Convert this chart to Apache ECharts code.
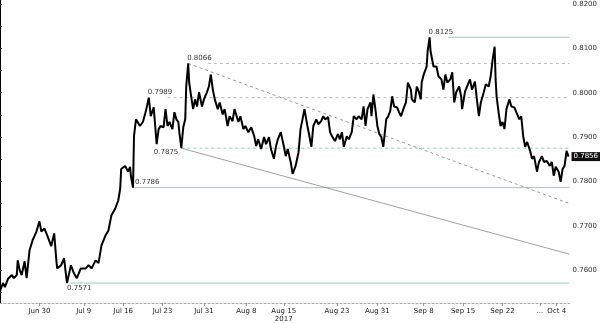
<!DOCTYPE html>
<html><head><meta charset="utf-8">
<script src="https://cdn.jsdelivr.net/npm/echarts@6/dist/echarts.min.js"></script>
<style>html,body{margin:0;padding:0;background:#fff}#c{width:600px;height:323px}</style>
</head><body><div id="c"></div>
<script>
// session index (trading-time position) and AUD/USD-like rate
const sessionIdx = [0,3,5,8,10,12,14,17,18,20,22,25,27,30,33,37,40,42,45,48,52,55,57,58,62,65,67,68,72,75,78,82,87,90,93,97,100,103,107,110,113,117,120,122,123,127,130,132,133,135,136,138,142,145,148,151,153,156,158,159,161,163,166,168,170,172,175,177,179,181,182,184,186,188,189,191,192,194,196,198,200,202,205,207,210,212,214,216,218,221,223,226,228,231,233,236,238,242,244,247,249,252,255,258,260,262,265,268,270,273,275,278,280,282,285,288,290,292,295,297,300,303,305,307,309,312,314,316,318,321,323,326,328,330,333,335,337,340,343,345,347,349,352,354,357,359,362,364,367,369,371,373,376,377,379,381,383,385,387,389,392,394,396,398,400,403,405,407,410,412,414,417,418,421,423,425,427,428,430,433,434,436,437,440,441,443,445,448,450,452,454,457,459,461,463,466,468,469,472,474,477,479,482,484,486,488,491,493,496,498,500,502,503,504,506,508,510,512,514,517,519,522,524,527,529,531,533,535,538,540,542,545,547,550,552,555,558,560,562,564,567,569,571,573,575,577];
const rate = [0.7553,0.7571,0.7562,0.7580,0.7578,0.7589,0.7582,0.7589,0.7622,0.7600,0.7589,0.7620,0.7582,0.7645,0.7667,0.7687,0.7710,0.7687,0.7694,0.7678,0.7654,0.7683,0.7627,0.7604,0.7611,0.7627,0.7589,0.7571,0.7611,0.7593,0.7582,0.7604,0.7604,0.7611,0.7604,0.7622,0.7616,0.7656,0.7678,0.7689,0.7723,0.7739,0.7757,0.7784,0.7828,0.7835,0.7822,0.7833,0.7810,0.7786,0.7902,0.7940,0.7925,0.7934,0.7958,0.7989,0.7947,0.7967,0.7911,0.7884,0.7918,0.7925,0.7922,0.7963,0.7925,0.7934,0.7918,0.7956,0.7940,0.7934,0.7911,0.7875,0.7922,0.7940,0.8014,0.8066,0.8023,0.7992,0.7963,0.7985,0.7969,0.8001,0.7969,0.7985,0.8001,0.8014,0.8041,0.8007,0.7985,0.7963,0.7978,0.7951,0.7963,0.7925,0.7947,0.7936,0.7963,0.7934,0.7947,0.7918,0.7925,0.7911,0.7922,0.7902,0.7880,0.7895,0.7873,0.7900,0.7884,0.7900,0.7873,0.7851,0.7878,0.7895,0.7911,0.7880,0.7857,0.7873,0.7844,0.7817,0.7835,0.7866,0.7918,0.7940,0.7963,0.7925,0.7902,0.7878,0.7925,0.7940,0.7929,0.7936,0.7947,0.7940,0.7945,0.7911,0.7902,0.7891,0.7907,0.7895,0.7911,0.7878,0.7902,0.7895,0.7911,0.7947,0.7940,0.7947,0.7940,0.7969,0.7925,0.7963,0.7978,0.7947,0.7996,0.7963,0.7925,0.7907,0.7900,0.7878,0.7940,0.7947,0.7958,0.7992,0.7969,0.7967,0.7956,0.7947,0.7967,0.7978,0.8023,0.8007,0.7985,0.7978,0.8014,0.8003,0.7985,0.8023,0.8041,0.8059,0.8093,0.8125,0.8093,0.8059,0.8057,0.8059,0.8037,0.8030,0.8007,0.8041,0.8023,0.8030,0.8046,0.7978,0.8001,0.8014,0.7992,0.7963,0.8003,0.8001,0.8030,0.8007,0.8025,0.7985,0.7947,0.7978,0.8001,0.8019,0.8014,0.8037,0.8075,0.8104,0.8030,0.7992,0.7956,0.7925,0.7934,0.7918,0.7963,0.7985,0.7969,0.7967,0.7956,0.7940,0.7947,0.7902,0.7878,0.7889,0.7869,0.7851,0.7857,0.7822,0.7844,0.7857,0.7844,0.7846,0.7835,0.7844,0.7813,0.7833,0.7822,0.7799,0.7828,0.7835,0.7869,0.7856];

// annotated levels
const levelValues = [0.8125, 0.8066, 0.7989, 0.7875, 0.7786, 0.7571];
const levelAnchor = [436, 191, 151, 184, 135, 68];
const levelLineStart = [455, 211, 170, 184, 135, 72];
const levelDashed = [false, true, true, true, false, false];
const levelBelow = [false, false, false, true, false, true];

// trend lines
const trendDotted = [[191, 0.8066], [578, 0.7750]];
const trendSolid = [[184, 0.7875], [578, 0.7636]];

// axes
const xTickPos = [40, 85, 125, 165, 207, 250, 288, 342, 383, 430, 470, 510, 548, 565];
const xTickLabels = ['Jun 30','Jul 9','Jul 16','Jul 23','Jul 31','Aug 8','Aug 15\n2017','Aug 23','Aug 31','Sep 8','Sep 15','Sep 22','...','Oct 4'];
const yTickLabels = [0.7600, 0.7700, 0.7800, 0.7900, 0.8000, 0.8100, 0.8200];
const yTickMarks = [0.7550,0.7600,0.7650,0.7700,0.7750,0.7800,0.7850,0.7900,0.7950,0.8000,0.8050,0.8100,0.8150,0.8200];

const chart = echarts.init(document.getElementById('c'), null, {renderer:'canvas'});
const teal = '#94ccc0';
const series = [];
levelValues.forEach((lv, i) => {
  series.push({
    type:'line', data:[[levelLineStart[i], lv],[578, lv]], showSymbol:false, silent:true,
    lineStyle:{color:teal, width:1, type: levelDashed[i] ? [3,3] : 'solid'}, z:1
  });
});
series.push({type:'line', data:trendDotted, showSymbol:false, silent:true, lineStyle:{color:'#999', width:1, type:[3,3]}, z:1});
series.push({type:'line', data:trendSolid, showSymbol:false, silent:true, lineStyle:{color:'#8a8a8a', width:0.8}, z:1});
series.push({
  type:'scatter', symbolSize:0, silent:true, z:5,
  data: levelValues.map((lv, i) => ({
    value:[levelAnchor[i], lv],
    label:{
      show:true, formatter: lv.toFixed(4), fontSize:7, color:'#000', fontFamily:'DejaVu Sans',
      position: levelBelow[i] ? (i===3 ? [-3, 4] : [0, 5]) : (i===4 ? [2, -5] : [-1, -5]),
      align: (i===3) ? 'right' : 'left', verticalAlign:'middle'
    }
  }))
});
series.push({
  type:'line', data: sessionIdx.map((x, i) => [x, rate[i]]), showSymbol:false, z:3,
  lineStyle:{color:'#000', width:2},
  endLabel:{show:true, formatter: p => p.value[1].toFixed(4), fontSize:7, color:'#fff', backgroundColor:'#111', padding:[1,2], distance:3, fontFamily:'DejaVu Sans'}
});

chart.setOption({
  animation:false,
  backgroundColor:'#fff',
  grid:{left:0, right:21, top:0, bottom:18, containLabel:false},
  xAxis:{
    type:'value', min:0, max:578,
    axisLine:{show:true, lineStyle:{color:'#aaa', type:[2,2]}},
    axisTick:{show:true, customValues:xTickPos, length:3, lineStyle:{color:'#999'}},
    axisLabel:{customValues:xTickPos, fontSize:7, color:'#222', margin:4, lineHeight:8, fontFamily:'DejaVu Sans',
      formatter: v => { const k = xTickPos.indexOf(v); return k >= 0 ? xTickLabels[k] : ''; }},
    splitLine:{show:false}
  },
  yAxis:{
    type:'value', position:'right', min:0.7526, max:0.8209,
    axisLine:{show:true, lineStyle:{color:'#000', width:1}},
    axisTick:{show:true, customValues:yTickMarks, length:2, lineStyle:{color:'#333'}},
    axisLabel:{customValues:yTickLabels, fontSize:7, color:'#333', margin:3, fontFamily:'DejaVu Sans',
      formatter: v => v.toFixed(4)},
    splitLine:{show:false}
  },
  series: series
});
</script></body></html>
